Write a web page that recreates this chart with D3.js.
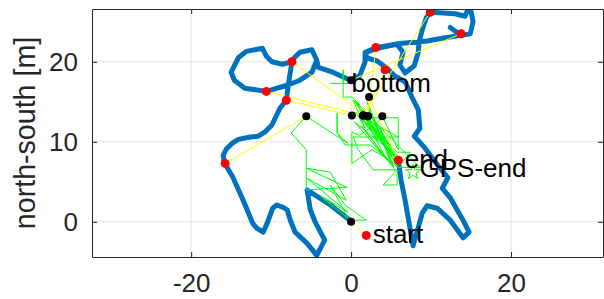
<!DOCTYPE html>
<html>
<head>
<meta charset="utf-8">
<script src="https://cdnjs.cloudflare.com/ajax/libs/d3/7.8.5/d3.min.js"></script>
<style>
  html, body { margin: 0; padding: 0; background: #fff; }
  body { font-family: "Liberation Sans", Arial, Helvetica, sans-serif; }
</style>
</head>
<body>
<div id="container"></div>
<script>
let width = 604;
let height = 299;

// axes limits and ticks (metres)
let xLimits = [-32.4, 31.5];
let yLimits = [-4.4, 26.6];
let xTicks = [-20, 0, 20];
let yTicks = [0, 10, 20];

// reference trajectory (blue)
let truthPath = [
  [0.1, 0.0], [-2.6, 2.1], [-5.5, 4.0], [-5.1, 1.5], [-4.5, 0.0], [-3.3, -2.3],
  [-4.3, -4.2], [-5.5, -2.7], [-7.0, -1.3], [-7.6, 0.2], [-8.0, 1.5], [-8.5, 1.8],
  [-9.3, 2.1], [-9.8, 1.7], [-10.5, -0.2], [-11.0, -1.3], [-11.8, -0.8], [-12.3, -0.2],
  [-13.5, 2.7], [-14.8, 5.6], [-15.5, 6.8], [-15.9, 7.7], [-16.0, 8.3], [-15.6, 9.1],
  [-14.9, 9.8], [-14.1, 10.3], [-12.6, 10.6], [-11.6, 10.7], [-10.8, 11.2], [-9.9, 12.1],
  [-8.9, 14.2], [-8.1, 15.2], [-7.8, 17.5], [-7.4, 20.0], [-8.6, 19.7], [-9.9, 20.0],
  [-10.6, 20.7], [-11.1, 21.7], [-13.1, 21.3], [-14.1, 20.5], [-15.0, 18.7], [-14.6, 17.7],
  [-13.3, 16.7], [-10.6, 16.3], [-7.9, 17.1], [-6.4, 17.7], [-4.9, 18.7], [-4.3, 20.2],
  [-4.9, 21.5], [-6.4, 21.2], [-7.1, 20.5], [-6.4, 21.2], [-4.9, 21.5], [-4.3, 20.2],
  [-4.1, 19.3], [-2.3, 18.7], [-0.1, 17.7], [1.1, 18.3], [1.75, 20.0], [1.75, 21.2],
  [3.25, 21.8], [6.1, 22.3], [9.5, 22.6], [11.75, 23.0], [13.75, 23.3], [12.4, 24.3],
  [13.75, 23.3], [14.9, 23.5], [15.25, 25.0], [15.0, 26.3], [14.5, 26.3], [14.25, 25.7],
  [13.0, 26.0], [11.5, 26.1], [9.9, 26.2], [9.4, 25.5], [8.9, 24.0], [8.5, 22.5],
  [8.4, 21.2], [7.9, 19.5], [6.75, 18.6], [6.1, 19.6], [6.5, 21.2], [5.75, 22.2],
  [3.25, 21.7], [1.75, 21.1], [2.0, 20.5], [3.25, 20.1], [4.5, 19.2], [5.5, 18.2],
  [6.75, 17.5], [7.6, 15.6], [8.4, 14.0], [8.6, 11.7], [7.9, 10.7], [9.25, 9.2],
  [10.5, 7.5], [12.1, 5.5], [11.4, 4.2], [12.4, 3.0], [14.0, 0.2], [14.75, -1.3],
  [14.0, -2.0], [12.4, 0.2], [10.75, 1.7], [9.5, 2.0], [8.9, 1.1], [8.4, -0.7],
  [7.75, -3.0], [7.4, -1.0], [6.75, 2.7], [6.25, 5.2], [5.9, 7.7]
];

// estimated track (green)
let estPath = [
  [-2.6, 17.3], [-0.1, 17.3], [-1.0, 17.3], [-1.0, 19.0], [-1.0, 15.6], [0.1, 15.6],
  [1.1, 14.6], [0.25, 15.2], [1.75, 11.7], [0.6, 13.7], [3.4, 10.2], [1.1, 13.3],
  [4.6, 9.0], [1.9, 13.0], [5.9, 13.0], [5.9, 9.0], [4.0, 13.0], [1.1, 10.8],
  [0.1, 11.2], [0.1, 7.3], [2.6, 9.0], [5.9, 7.1], [3.6, 11.8], [5.5, 6.2],
  [4.0, 4.6], [5.75, 4.6], [5.75, 6.5], [2.75, 6.5], [0.9, 9.0], [0.25, 10.6],
  [5.9, 10.6], [2.1, 12.7], [5.1, 8.3], [1.4, 14.0], [4.9, 9.6], [2.6, 12.1],
  [6.1, 7.1], [7.4, 8.7], [5.75, 8.7], [3.6, 10.8], [2.1, 14.2], [5.75, 7.7],
  [0.5, 15.0], [5.5, 7.5], [1.0, 14.0], [6.0, 8.0], [0.4, 12.5], [5.3, 6.8],
  [2.0, 15.0], [5.0, 7.2], [1.3, 12.0], [4.4, 7.8], [0.8, 14.8], [5.8, 9.6],
  [8.6, 6.8], [5.9, 6.8], [2.4, 9.6], [-0.75, 9.6], [-1.75, 11.1], [-1.75, 13.6],
  [-1.75, 11.1], [-0.4, 9.8], [-5.6, 13.2], [-7.5, 11.1], [-5.6, 9.0], [-5.6, 4.0],
  [-0.5, 4.3], [-5.6, 6.7], [-2.6, 6.2], [-0.6, 2.7], [-5.6, 5.5], [-0.4, 1.2],
  [-3.9, 3.3], [-0.1, 0.2], [1.9, 0.2], [-0.75, 2.1], [-2.6, 4.6], [-0.4, 0.5]
];

// red: positions on the trajectory, black: matching estimates
let redPoints = [
  [-7.4, 20.0], [-10.6, 16.3], [-8.1, 15.2], [-15.75, 7.3], [3.1, 21.8],
  [9.9, 26.2], [13.75, 23.5], [4.25, 19.0], [5.9, 7.7], [1.9, -1.7]
];
let blackPoints = [
  [2.1, 13.2], [1.5, 13.3], [0.1, 13.3], [-5.6, 13.2], [2.1, 13.2],
  [1.5, 13.3], [0.0, 17.7], [1.5, 13.3], [2.25, 15.6], [0.0, 0.0]
];
let extraBlack = [[3.9, 13.2]];

let gpsEnd = [7.75, 6.2];

let labelText = ["bottom", "end", "GPS-end", "start"];
let labelX = [0.05, 6.7, 8.55, 2.7];
let labelY = [16.2, 6.7, 5.6, -2.65];

function main() {
  let margin = { left: 92, right: 1, top: 9, bottom: 42 };

  let svg = d3.select("#container")
    .append("svg")
    .attr("width", width)
    .attr("height", height);

  let x = d3.scaleLinear().domain(xLimits).range([margin.left, width - margin.right]);
  let y = d3.scaleLinear().domain(yLimits).range([height - margin.bottom, margin.top]);

  // grid
  let grid = svg.append("g");
  grid.selectAll("line.gx").data(xTicks).join("line")
    .attr("x1", d => x(d)).attr("x2", d => x(d))
    .attr("y1", y.range()[0]).attr("y2", y.range()[1])
    .attr("stroke", "#e3e3e3").attr("stroke-width", 1);
  grid.selectAll("line.gy").data(yTicks).join("line")
    .attr("y1", d => y(d)).attr("y2", d => y(d))
    .attr("x1", x.range()[0]).attr("x2", x.range()[1])
    .attr("stroke", "#e3e3e3").attr("stroke-width", 1);

  svg.append("clipPath").attr("id", "clip")
    .append("rect")
    .attr("x", x.range()[0]).attr("y", y.range()[1])
    .attr("width", x.range()[1] - x.range()[0])
    .attr("height", y.range()[0] - y.range()[1]);

  let plot = svg.append("g").attr("clip-path", "url(#clip)");
  let line = d3.line().x(d => x(d[0])).y(d => y(d[1]));

  // trajectory
  plot.append("path")
    .attr("d", line(truthPath))
    .attr("fill", "none")
    .attr("stroke", "#0072BD")
    .attr("stroke-width", 5)
    .attr("stroke-linejoin", "round")
    .attr("stroke-linecap", "round");

  // estimate
  plot.append("path")
    .attr("d", line(estPath))
    .attr("fill", "none")
    .attr("stroke", "#00ff00")
    .attr("stroke-width", 1);

  // links
  plot.selectAll("line.link").data(redPoints).join("line")
    .attr("x1", d => x(d[0])).attr("y1", d => y(d[1]))
    .attr("x2", (d, i) => x(blackPoints[i][0]))
    .attr("y2", (d, i) => y(blackPoints[i][1]))
    .attr("stroke", "#ffff00")
    .attr("stroke-width", 1);

  plot.selectAll("circle.red").data(redPoints).join("circle")
    .attr("cx", d => x(d[0])).attr("cy", d => y(d[1]))
    .attr("r", 4.5).attr("fill", "#ff0000");

  plot.selectAll("circle.black").data(blackPoints.concat(extraBlack)).join("circle")
    .attr("cx", d => x(d[0])).attr("cy", d => y(d[1]))
    .attr("r", 4).attr("fill", "#000");

  // GPS end star
  plot.append("path")
    .attr("d", d3.symbol(d3.symbolStar, 70)())
    .attr("transform", `translate(${x(gpsEnd[0])},${y(gpsEnd[1])})`)
    .attr("fill", "none")
    .attr("stroke", "#00ff00")
    .attr("stroke-width", 1);

  // labels
  svg.selectAll("text.lbl").data(labelText).join("text")
    .attr("x", (d, i) => x(labelX[i]))
    .attr("y", (d, i) => y(labelY[i]))
    .attr("font-size", 26)
    .attr("fill", "#000")
    .text(d => d);

  // axes
  let tickColor = "#262626";
  let ax = svg.append("g")
    .attr("transform", `translate(0,${y.range()[0]})`)
    .call(d3.axisBottom(x).tickValues(xTicks).tickSize(-5).tickSizeOuter(0).tickPadding(17));
  let ay = svg.append("g")
    .attr("transform", `translate(${x.range()[0]},0)`)
    .call(d3.axisLeft(y).tickValues(yTicks).tickSize(-5).tickSizeOuter(0).tickPadding(14));
  let at = svg.append("g")
    .attr("transform", `translate(0,${y.range()[1]})`)
    .call(d3.axisTop(x).tickValues(xTicks).tickSize(-5).tickSizeOuter(0).tickFormat(""));
  let ar = svg.append("g")
    .attr("transform", `translate(${x.range()[1]},0)`)
    .call(d3.axisRight(y).tickValues(yTicks).tickSize(-5).tickSizeOuter(0).tickFormat(""));

  [ax, ay, at, ar].forEach(function (g) {
    g.select(".domain").attr("stroke", tickColor);
    g.selectAll(".tick line").attr("stroke", tickColor);
    g.selectAll(".tick text")
      .attr("fill", tickColor)
      .attr("font-size", 26)
      .attr("font-family", "\"Liberation Sans\", Arial, Helvetica, sans-serif");
  });
  ax.selectAll(".tick text").text(d => d < 0 ? "-" + Math.abs(d) : d);

  // y label
  svg.append("text")
    .attr("transform", `translate(35,${(y.range()[0] + y.range()[1]) / 2}) rotate(-90)`)
    .attr("text-anchor", "middle")
    .attr("font-size", 28.6)
    .attr("fill", tickColor)
    .text("north-south [m]");
}

main();
</script>
</body>
</html>
